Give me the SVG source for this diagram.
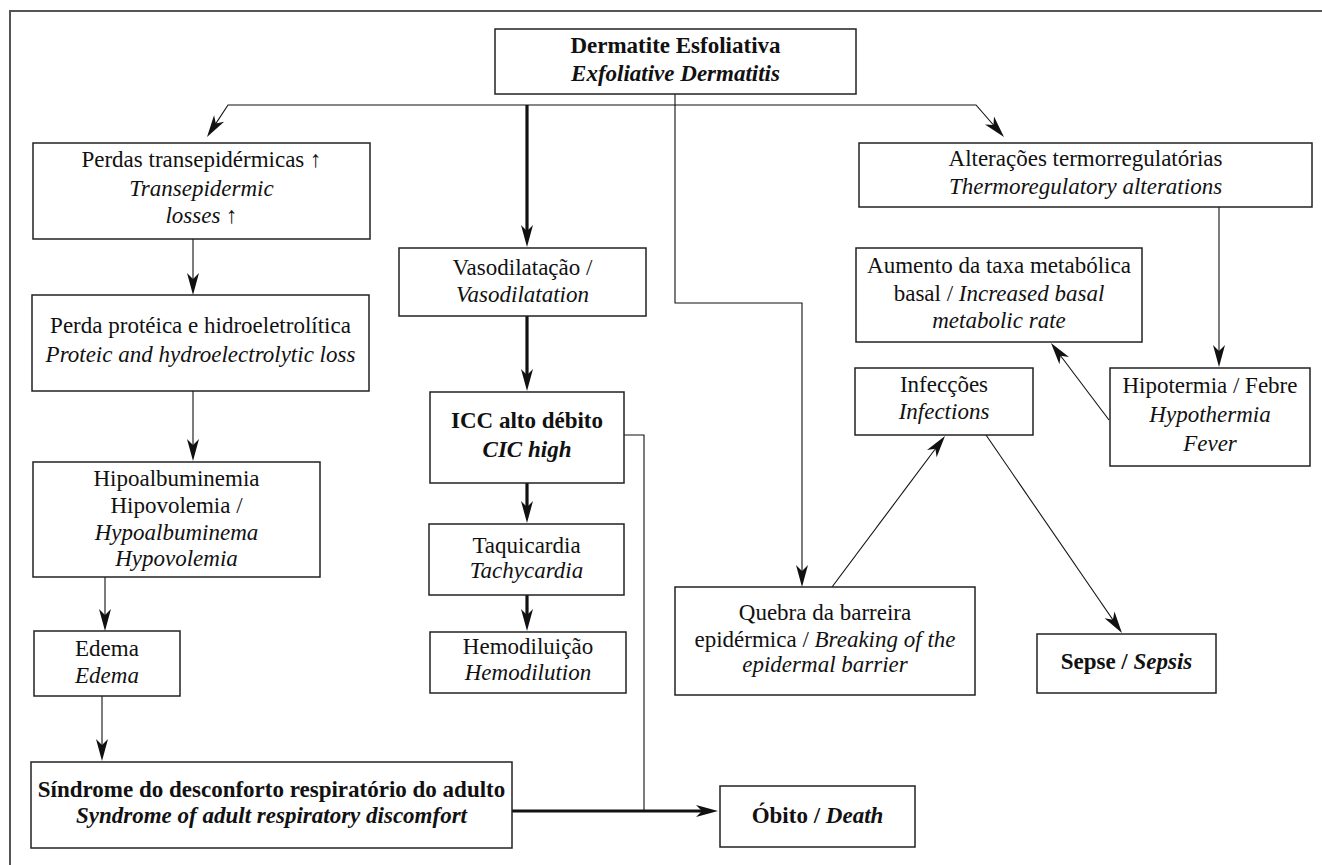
<svg xmlns="http://www.w3.org/2000/svg" width="1322" height="865" viewBox="0 0 1322 865">
<style>
  .box { fill: #fff; stroke: #222; stroke-width: 1.5; }
  text { font-family: "Liberation Serif", "Times New Roman", serif; font-size: 23px; fill: #111; text-anchor: middle; }
  .b { font-weight: bold; }
  .i { font-style: italic; }
  .thin { fill: none; stroke: #111; stroke-width: 1.1; }
  .thick { fill: none; stroke: #111; stroke-width: 3.2; }
  .frame { fill: none; stroke: #555; stroke-width: 2; }
</style>
<defs>
  <marker id="ah" markerUnits="userSpaceOnUse" markerWidth="24" markerHeight="14" refX="12" refY="7" orient="auto" overflow="visible">
    <path d="M0,1 L22,7 L0,13 L6,7 Z" fill="#111"/>
  </marker>
</defs>
<path class="frame" d="M10,865 L10,11 L1322,11"/>
<g id="connectors">
  <path class="thin" d="M675,105 L228,105 L212.5,128.6" marker-end="url(#ah)"/>
  <path class="thin" d="M675,105 L976,105 L997.4,129.5" marker-end="url(#ah)"/>
  <path class="thick" d="M527,105 L527,237" marker-end="url(#ah)"/>
  <path class="thin" d="M675,94 L675,303 L802,303 L802,577" marker-end="url(#ah)"/>
  <path class="thin" d="M193,239 L193,285" marker-end="url(#ah)"/>
  <path class="thin" d="M193,391 L193,451" marker-end="url(#ah)"/>
  <path class="thin" d="M105,577 L105,621" marker-end="url(#ah)"/>
  <path class="thin" d="M102,696 L102,751" marker-end="url(#ah)"/>
  <path class="thick" d="M512,811 L708,811" marker-end="url(#ah)"/>
  <path class="thin" d="M624,435 L644,435 L644,811"/>
  <path class="thick" d="M527,316 L527,381" marker-end="url(#ah)"/>
  <path class="thick" d="M527,483 L527,513" marker-end="url(#ah)"/>
  <path class="thick" d="M527,595 L527,621" marker-end="url(#ah)"/>
  <path class="thin" d="M1219,207 L1219,357" marker-end="url(#ah)"/>
  <path class="thin" d="M1109,420 L1057,351" marker-end="url(#ah)"/>
  <path class="thin" d="M832,587 L939,444" marker-end="url(#ah)"/>
  <path class="thin" d="M986,435 L1116.3,624.8" marker-end="url(#ah)"/>
</g>
<g id="n-dermatite">
  <rect class="box" x="495" y="29" width="361" height="65"/>
  <text x="675.5" y="53" class="b">Dermatite Esfoliativa</text>
  <text x="675.5" y="81" class="b i">Exfoliative Dermatitis</text>
</g>
<g id="n-perdas">
  <rect class="box" x="33" y="143" width="337" height="96"/>
  <text x="201.5" y="167">Perdas transepidérmicas ↑</text>
  <text x="201.5" y="196" class="i">Transepidermic</text>
  <text x="201.5" y="223"><tspan class="i">losses</tspan> ↑</text>
</g>
<g id="n-perda-proteica">
  <rect class="box" x="32" y="295" width="337" height="96"/>
  <text x="200.5" y="333">Perda protéica e hidroeletrolítica</text>
  <text x="200.5" y="362" class="i">Proteic and hydroelectrolytic loss</text>
</g>
<g id="n-hipo">
  <rect class="box" x="33" y="462" width="287" height="115"/>
  <text x="176.5" y="486">Hipoalbuminemia</text>
  <text x="176.5" y="513">Hipovolemia /</text>
  <text x="176.5" y="540" class="i">Hypoalbuminema</text>
  <text x="176.5" y="566" class="i">Hypovolemia</text>
</g>
<g id="n-edema">
  <rect class="box" x="34" y="631" width="146" height="65"/>
  <text x="107" y="656">Edema</text>
  <text x="107" y="683" class="i">Edema</text>
</g>
<g id="n-sindrome">
  <rect class="box" x="31" y="762" width="481" height="86"/>
  <text x="271.5" y="797" class="b">Síndrome do desconforto respiratório do adulto</text>
  <text x="271.5" y="823" class="b i">Syndrome of adult respiratory discomfort</text>
</g>
<g id="n-vaso">
  <rect class="box" x="399" y="248" width="247" height="68"/>
  <text x="522.5" y="275">Vasodilatação /</text>
  <text x="522.5" y="302" class="i">Vasodilatation</text>
</g>
<g id="n-icc">
  <rect class="box" x="430" y="392" width="194" height="91"/>
  <text x="527" y="428" class="b">ICC alto débito</text>
  <text x="527" y="457" class="b i">CIC high</text>
</g>
<g id="n-taqui">
  <rect class="box" x="429" y="524" width="195" height="71"/>
  <text x="526.5" y="553">Taquicardia</text>
  <text x="526.5" y="578" class="i">Tachycardia</text>
</g>
<g id="n-hemo">
  <rect class="box" x="430" y="632" width="196" height="61"/>
  <text x="528" y="654">Hemodiluição</text>
  <text x="528" y="680" class="i">Hemodilution</text>
</g>
<g id="n-obito">
  <rect class="box" x="720" y="786" width="195" height="61"/>
  <text x="817.5" y="823" class="b">Óbito / <tspan class="i">Death</tspan></text>
</g>
<g id="n-quebra">
  <rect class="box" x="675" y="587" width="300" height="108"/>
  <text x="825" y="620">Quebra da barreira</text>
  <text x="825" y="647">epidérmica / <tspan class="i">Breaking of the</tspan></text>
  <text x="825" y="672" class="i">epidermal barrier</text>
</g>
<g id="n-sepse">
  <rect class="box" x="1037" y="634" width="179" height="59"/>
  <text x="1126.5" y="669" class="b">Sepse / <tspan class="i">Sepsis</tspan></text>
</g>
<g id="n-infeccoes">
  <rect class="box" x="855" y="368" width="178" height="67"/>
  <text x="944" y="392">Infecções</text>
  <text x="944" y="419" class="i">Infections</text>
</g>
<g id="n-aumento">
  <rect class="box" x="856" y="248" width="286" height="94"/>
  <text x="999" y="273">Aumento da taxa metabólica</text>
  <text x="999" y="301">basal / <tspan class="i">Increased basal</tspan></text>
  <text x="999" y="328" class="i">metabolic rate</text>
</g>
<g id="n-thermo">
  <rect class="box" x="859" y="143" width="453" height="64"/>
  <text x="1085.5" y="166">Alterações termorregulatórias</text>
  <text x="1085.5" y="194" class="i">Thermoregulatory alterations</text>
</g>
<g id="n-hipotermia">
  <rect class="box" x="1110" y="368" width="200" height="98"/>
  <text x="1210" y="393">Hipotermia / Febre</text>
  <text x="1210" y="422" class="i">Hypothermia</text>
  <text x="1210" y="451" class="i">Fever</text>
</g>
</svg>
